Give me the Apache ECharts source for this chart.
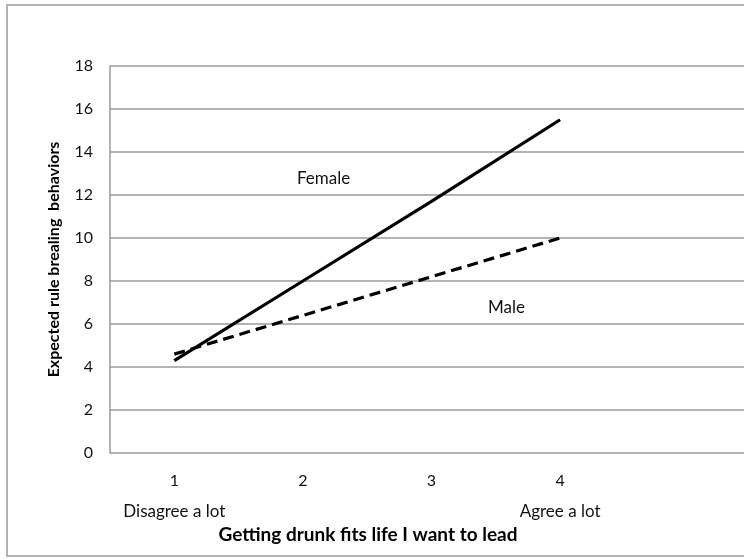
<!DOCTYPE html>
<html><head><meta charset="utf-8">
<script src="https://cdn.jsdelivr.net/npm/echarts@6/dist/echarts.min.js"></script>
<style>html,body{margin:0;padding:0;background:#fff}#c{width:744px;height:559px}</style>
</head><body><div id="c"></div>
<script>
const categories = [1, 2, 3, 4];
const endLabels = {1: 'Disagree a lot', 4: 'Agree a lot'};
const female = [4.3, 8.0, 11.7, 15.5];
const male = [4.6, 6.4, 8.2, 10.0];
const yTicks = {min: 0, max: 18, interval: 2};
const FONT = 'Lato';

const toPairs = vals => vals.map((v, i) => [categories[i], v]);

const chart = echarts.init(document.getElementById('c'));
chart.setOption({
  animation: false,
  backgroundColor: '#fff',
  grid: {left: 110, top: 66, right: 0, bottom: 106, containLabel: false},
  xAxis: {
    type: 'value', min: 0.5, max: 5.43,
    axisLine: {show: false}, axisTick: {show: false}, splitLine: {show: false},
    axisLabel: {
      customValues: categories, showMinLabel: true, showMaxLabel: true, hideOverlap: false,
      margin: 20, color: '#111', fontFamily: FONT, fontSize: 16,
      formatter: v => endLabels[v] ? '{n|' + v + '}\n{d|' + endLabels[v] + '}' : '{n|' + v + '}',
      rich: {n: {fontSize: 16, fontFamily: FONT, color: '#111', lineHeight: 28, verticalAlign: 'top'},
             d: {fontSize: 17, fontFamily: FONT, color: '#111', lineHeight: 22}}
    },
    name: 'Getting drunk fits life I want to lead', nameLocation: 'middle', nameGap: 71,
    nameTextStyle: {fontFamily: FONT, fontWeight: 'bold', fontSize: 19, color: '#000', padding: [0, 0, 0, -118]}
  },
  yAxis: {
    type: 'value', min: yTicks.min, max: yTicks.max, interval: yTicks.interval,
    axisLine: {show: true, lineStyle: {color: '#9a9a9a', width: 1.5}}, axisTick: {show: false},
    splitLine: {lineStyle: {color: '#9a9a9a', width: 1.5}},
    axisLabel: {color: '#111', fontFamily: FONT, fontSize: 16, margin: 17},
    name: 'Expected rule brealing  behaviors', nameLocation: 'middle', nameGap: 48,
    nameTextStyle: {fontFamily: FONT, fontWeight: 'bold', fontSize: 16, color: '#000'}
  },
  series: [
    {name: 'Female', type: 'line', data: toPairs(female), symbol: 'none', lineStyle: {color: '#000', width: 3.2}},
    {name: 'Male', type: 'line', data: toPairs(male), symbol: 'none', lineStyle: {color: '#000', width: 3.2, type: [11, 6]}}
  ],
  graphic: [
    {type: 'rect', shape: {x: 7, y: 5, width: 800, height: 551}, style: {fill: null, stroke: '#9a9a9a', lineWidth: 1.5}, silent: true},
    {type: 'text', left: 297, top: 170, style: {text: 'Female', fontFamily: FONT, fontSize: 17, fill: '#111'}},
    {type: 'text', left: 488, top: 299, style: {text: 'Male', fontFamily: FONT, fontSize: 17, fill: '#111'}}
  ]
});
</script></body></html>
